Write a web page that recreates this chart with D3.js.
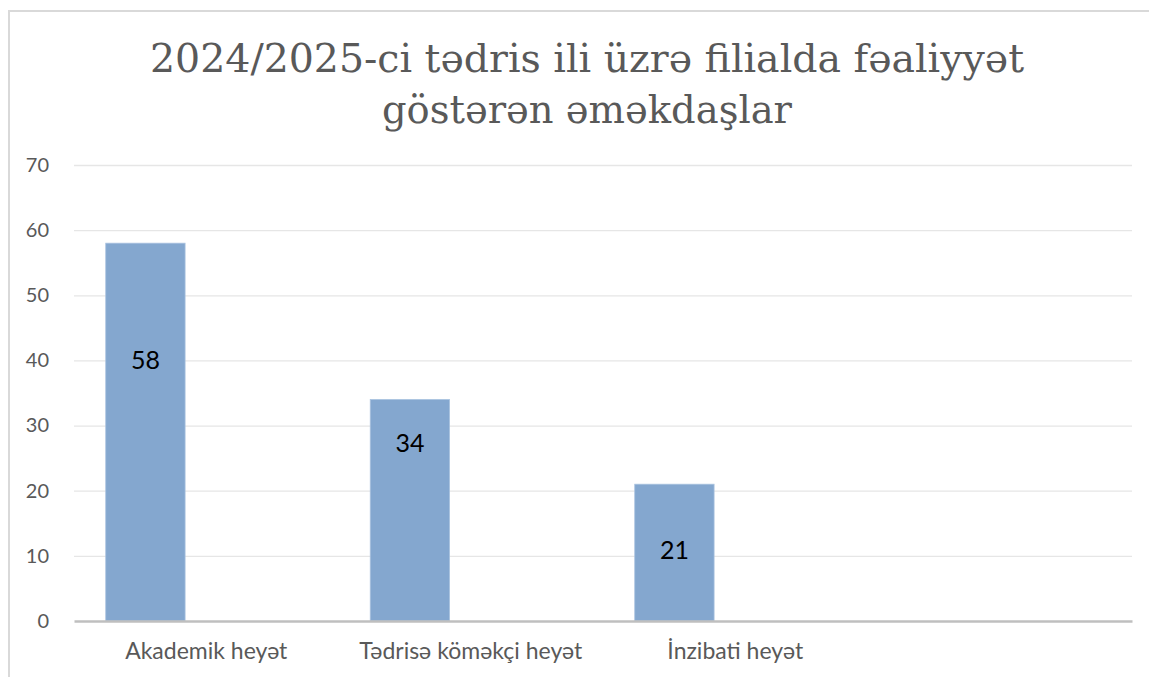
<!DOCTYPE html>
<html>
<head>
<meta charset="utf-8">
<script src="https://cdn.jsdelivr.net/npm/d3@7"></script>
<style>
  html, body { margin: 0; padding: 0; background: #fff; }
</style>
</head>
<body>
<div id="chart"></div>
<script>
// data
const titleLines = ["2024/2025-ci tədris ili üzrə filialda fəaliyyət", "göstərən əməkdaşlar"];
const categories = ["Akademik heyət", "Tədrisə köməkçi heyət", "İnzibati heyət", ""];
const values = [58, 34, 21];
const labelAt = [40, 27.3, 10.8]; // where each value label sits, in axis units
const yTicks = [0, 10, 20, 30, 40, 50, 60, 70];

const width = 1149;
const height = 677;
const marginTop = 165;
const marginLeft = 74;
const marginRight = 17;
const marginBottom = 56;

const x = d3.scaleBand()
  .domain(categories)
  .range([marginLeft, width - marginRight]);

const y = d3.scaleLinear()
  .domain([0, 70])
  .range([height - marginBottom, marginTop]);

const svg = d3.select("#chart")
  .append("svg")
  .attr("width", width)
  .attr("height", height)
  .attr("viewBox", [0, 0, width, height]);

// chart frame (only top and left edge visible)
svg.append("path")
  .attr("d", `M9,${height}V11H${width}`)
  .attr("fill", "none")
  .attr("stroke", "#d9d9d9")
  .attr("stroke-width", 2);

// title
svg.append("g")
  .selectAll("text")
  .data(titleLines)
  .join("text")
  .attr("x", 587)
  .attr("y", (d, i) => 72 + i * 51)
  .attr("text-anchor", "middle")
  .attr("font-family", "'DejaVu Serif', serif")
  .attr("font-size", "40px")
  .attr("fill", "#595959")
  .attr("textLength", (d, i) => i === 0 ? 874 : 410)
  .attr("lengthAdjust", "spacingAndGlyphs")
  .text(d => d);

// gridlines + y labels
const yAxis = svg.append("g")
  .attr("transform", `translate(${marginLeft},0)`)
  .call(d3.axisLeft(y).tickValues(yTicks).tickSize(0).tickPadding(25))
  .call(g => g.select(".domain").remove())
  .call(g => g.selectAll("text")
    .attr("fill", "#595959")
    .attr("font-family", "Lato, 'Open Sans', sans-serif")
    .attr("font-size", "20px"));

yAxis.selectAll(".tick")
  .filter(d => d !== 0)
  .append("line")
  .attr("x2", width - marginRight - marginLeft)
  .attr("stroke", "#e6e6e6")
  .attr("stroke-width", 1.3);

// bars
const barOffset = x.bandwidth() * 0.12;
const barWidth = x.bandwidth() * 0.30;

svg.append("g")
  .selectAll("rect")
  .data(values)
  .join("rect")
  .attr("x", (d, i) => x(categories[i]) + barOffset)
  .attr("y", d => y(d))
  .attr("width", barWidth)
  .attr("height", d => y(0) - y(d))
  .attr("fill", "#84a7cf")
  .attr("stroke", "#a9c2df")
  .attr("stroke-width", 0.8);

// value labels
svg.append("g")
  .selectAll("text")
  .data(values)
  .join("text")
  .attr("x", (d, i) => x(categories[i]) + barOffset + barWidth / 2)
  .attr("y", (d, i) => y(labelAt[i]))
  .attr("dy", "0.35em")
  .attr("text-anchor", "middle")
  .attr("font-family", "Lato, 'Open Sans', sans-serif")
  .attr("font-size", "25px")
  .attr("fill", "#000")
  .text(d => d);

// x axis baseline + category labels
svg.append("g")
  .attr("transform", `translate(0,${y(0)})`)
  .call(d3.axisBottom(x).tickSize(0).tickPadding(22))
  .call(g => g.select(".domain")
    .attr("stroke", "#bfbfbf")
    .attr("stroke-width", 2.5))
  .call(g => g.selectAll("text")
    .attr("fill", "#595959")
    .attr("font-family", "Lato, 'Open Sans', sans-serif")
    .attr("font-size", "23px"));
</script>
</body>
</html>
